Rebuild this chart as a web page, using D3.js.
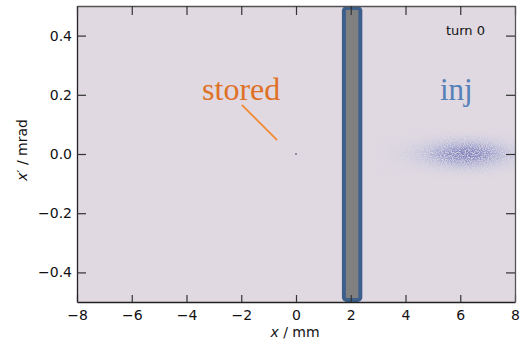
<!DOCTYPE html>
<html>
<head>
<meta charset="utf-8">
<script src="https://cdn.jsdelivr.net/npm/d3@7"></script>
<style>
  html, body { margin: 0; padding: 0; background: #ffffff; }
  svg { display: block; }
</style>
</head>
<body>
<svg id="chart" width="529" height="345"></svg>
<script>
// ---------------- data ----------------
const xTicks = [-8, -6, -4, -2, 0, 2, 4, 6, 8];
const yTicks = [-0.4, -0.2, 0.0, 0.2, 0.4];
const xDomain = [-8, 8];
const yDomain = [-0.5, 0.5];

// septum blade (mm / mrad)
const septumX = [1.75, 2.35];
const septumY = [-0.493, 0.493];

// stored beam (single point)
const storedBeam = [[0.0, 0.0]];

// injected beam density
const injCols = [3.2, 3.6, 4.0, 4.4, 4.8, 5.2, 5.6, 6.0, 6.4, 6.8, 7.2, 7.6, 8.0];
const injRows = [0.06, 0.045, 0.03, 0.015, 0.0, -0.015, -0.03, -0.045, -0.06];
const injDensity = [
  [0.01, 0.02, 0.02, 0.04, 0.06, 0.09, 0.12, 0.14, 0.15, 0.13, 0.09, 0.06, 0.04],
  [0.02, 0.03, 0.05, 0.08, 0.13, 0.19, 0.24, 0.29, 0.30, 0.26, 0.19, 0.12, 0.07],
  [0.03, 0.06, 0.09, 0.14, 0.23, 0.34, 0.44, 0.52, 0.55, 0.47, 0.34, 0.22, 0.13],
  [0.04, 0.09, 0.14, 0.22, 0.36, 0.53, 0.68, 0.81, 0.85, 0.72, 0.53, 0.34, 0.20],
  [0.05, 0.10, 0.16, 0.26, 0.42, 0.62, 0.80, 0.95, 1.00, 0.85, 0.62, 0.40, 0.24],
  [0.04, 0.09, 0.14, 0.22, 0.36, 0.53, 0.68, 0.81, 0.85, 0.72, 0.53, 0.34, 0.20],
  [0.03, 0.06, 0.09, 0.14, 0.23, 0.34, 0.44, 0.52, 0.55, 0.47, 0.34, 0.22, 0.13],
  [0.02, 0.03, 0.05, 0.08, 0.13, 0.19, 0.24, 0.29, 0.30, 0.26, 0.19, 0.12, 0.07],
  [0.01, 0.02, 0.02, 0.04, 0.06, 0.09, 0.12, 0.14, 0.15, 0.13, 0.09, 0.06, 0.04]
];
const injColStep = 0.4;
const injRowStep = 0.015;

// annotations
const storedLabel = { text: "stored", x: -3.43, y: 0.182 };
const storedArrow = [[-1.98, 0.166], [-0.69, 0.047]];
const injLabel = { text: "inj", x: 5.26, y: 0.182 };
const turnLabel = "turn 0";

// ---------------- layout ----------------
const W = 529, H = 345;
const margin = { left: 77, right: 14, top: 6, bottom: 43 };
const pw = W - margin.left - margin.right;
const ph = H - margin.top - margin.bottom;

const svg = d3.select("#chart");
const defs = svg.append("defs");
defs.append("clipPath").attr("id", "plotclip")
  .append("rect").attr("width", pw).attr("height", ph);

const f = defs.append("filter").attr("id", "grain")
  .attr("x", "-20%").attr("y", "-80%").attr("width", "140%").attr("height", "260%");
f.append("feGaussianBlur").attr("in", "SourceGraphic").attr("stdDeviation", "6 3").attr("result", "b");
f.append("feTurbulence").attr("type", "fractalNoise").attr("baseFrequency", "0.95")
  .attr("numOctaves", 1).attr("seed", 4).attr("result", "n");
f.append("feColorMatrix").attr("in", "n").attr("type", "matrix")
  .attr("values", "0 0 0 0 1  0 0 0 0 1  0 0 0 0 1  4 0 0 0 -1.4").attr("result", "na");
f.append("feComposite").attr("in", "b").attr("in2", "na").attr("operator", "arithmetic")
  .attr("k1", 0.9).attr("k2", 0.25).attr("k3", 0).attr("k4", 0);

const x = d3.scaleLinear().domain(xDomain).range([0, pw]);
const y = d3.scaleLinear().domain(yDomain).range([ph, 0]);

const g = svg.append("g").attr("transform", `translate(${margin.left},${margin.top})`);

// background
g.append("rect").attr("width", pw).attr("height", ph).attr("fill", "#e0d9e1");

const plot = g.append("g").attr("clip-path", "url(#plotclip)");

// injected beam cloud
const cells = [];
injRows.forEach((ry, i) => injCols.forEach((cx, j) => {
  cells.push({ cx, ry, d: injDensity[i][j] });
}));
const col = d3.interpolateRgb("#a3b8e4", "#7b78b8");
plot.append("g").attr("filter", "url(#grain)")
  .selectAll("rect").data(cells).join("rect")
  .attr("x", d => x(d.cx - injColStep / 2))
  .attr("y", d => y(d.ry + injRowStep / 2))
  .attr("width", x(injColStep) - x(0))
  .attr("height", y(0) - y(injRowStep))
  .attr("fill", d => col(d.d))
  .attr("fill-opacity", d => Math.min(0.9, d.d * 1.1));

// stored beam
plot.selectAll("circle.stored").data(storedBeam).join("circle")
  .attr("class", "stored")
  .attr("cx", d => x(d[0])).attr("cy", d => y(d[1]))
  .attr("r", 0.9).attr("fill", "#5c6f90");

// septum
g.append("rect")
  .attr("x", x(septumX[0])).attr("y", y(septumY[1]))
  .attr("width", x(septumX[1]) - x(septumX[0]))
  .attr("height", y(septumY[0]) - y(septumY[1]))
  .attr("rx", 2.5)
  .attr("fill", "#808080").attr("stroke", "#3d5f8c").attr("stroke-width", 4);

// annotations
g.append("line")
  .attr("x1", x(storedArrow[0][0])).attr("y1", y(storedArrow[0][1]))
  .attr("x2", x(storedArrow[1][0])).attr("y2", y(storedArrow[1][1]))
  .attr("stroke", "#f08a30").attr("stroke-width", 1.8);
g.append("text").text(storedLabel.text)
  .attr("x", x(storedLabel.x)).attr("y", y(storedLabel.y))
  .attr("font-family", "'Liberation Serif', 'DejaVu Serif', serif")
  .attr("font-size", 32).attr("fill", "#df7126");
g.append("text").text(injLabel.text)
  .attr("x", x(injLabel.x)).attr("y", y(injLabel.y))
  .attr("font-family", "'Liberation Serif', 'DejaVu Serif', serif")
  .attr("font-size", 31).attr("fill", "#5580b8");
g.append("text").text(turnLabel)
  .attr("x", pw - 30).attr("y", 29)
  .attr("text-anchor", "end")
  .attr("font-family", "'DejaVu Sans', sans-serif")
  .attr("font-size", 13).attr("fill", "#111");

// axes
const tickFont = "'DejaVu Sans', sans-serif";
const xAxis = g.append("g").attr("transform", `translate(0,${ph})`)
  .call(d3.axisBottom(x).tickValues(xTicks).tickSizeInner(-7).tickSizeOuter(0).tickPadding(8)
    .tickFormat(d => d3.format("d")(d).replace("-", "\u2212")));
const yAxis = g.append("g")
  .call(d3.axisLeft(y).tickValues(yTicks).tickSizeInner(-9).tickSizeOuter(0).tickPadding(5)
    .tickFormat(d => d3.format(".1f")(d).replace("-", "\u2212")));
const xTop = g.append("g")
  .call(d3.axisTop(x).tickValues(xTicks).tickSizeInner(-9).tickSizeOuter(0).tickFormat(""));
const yRight = g.append("g").attr("transform", `translate(${pw},0)`)
  .call(d3.axisRight(y).tickValues(yTicks).tickSizeInner(-9).tickSizeOuter(0).tickFormat(""));

[xAxis, yAxis, xTop, yRight].forEach(a => {
  a.selectAll("text").attr("font-family", tickFont).attr("font-size", 14).attr("fill", "#111");
  a.selectAll(".tick line").attr("stroke", "#333").attr("stroke-width", 1.2);
  a.select(".domain").attr("stroke", "#222").attr("stroke-width", 1.3);
});
xTop.select(".domain").attr("stroke", "#555");
yRight.select(".domain").attr("stroke", "#555");

// axis labels
const xl = svg.append("text")
  .attr("x", 295).attr("y", 337)
  .attr("text-anchor", "middle")
  .attr("font-family", tickFont).attr("font-size", 14).attr("fill", "#111");
xl.append("tspan").attr("font-style", "italic").text("x");
xl.append("tspan").text(" / mm");

const yl = svg.append("text")
  .attr("transform", `translate(27,150) rotate(-90)`)
  .attr("text-anchor", "middle")
  .attr("font-family", tickFont).attr("font-size", 14).attr("fill", "#111");
yl.append("tspan").attr("font-style", "italic").text("x");
yl.append("tspan").text("\u2032 / mrad");
</script>
</body>
</html>
